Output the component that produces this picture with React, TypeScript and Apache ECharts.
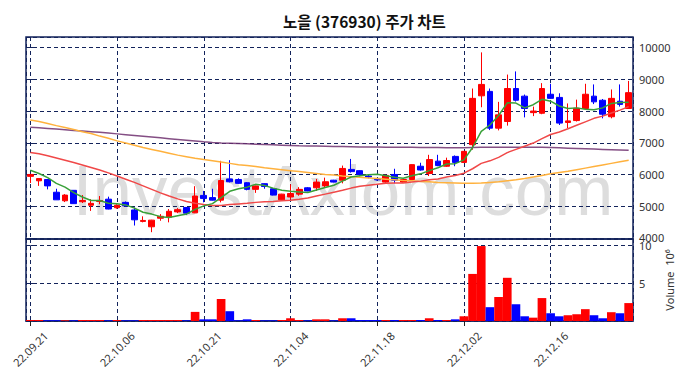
import React, { useEffect, useRef } from "react";
import * as echarts from "echarts";

const dates = [
  "22.09.21", "22.09.22", "22.09.23", "22.09.26", "22.09.27", "22.09.28", "22.09.29", "22.09.30", "22.10.04", "22.10.05",
  "22.10.06", "22.10.07", "22.10.11", "22.10.12", "22.10.13", "22.10.14", "22.10.17", "22.10.18", "22.10.19", "22.10.20",
  "22.10.21", "22.10.24", "22.10.25", "22.10.26", "22.10.27", "22.10.28", "22.10.31", "22.11.01", "22.11.02", "22.11.03",
  "22.11.04", "22.11.07", "22.11.08", "22.11.09", "22.11.10", "22.11.11", "22.11.14", "22.11.15", "22.11.16", "22.11.17",
  "22.11.18", "22.11.21", "22.11.22", "22.11.23", "22.11.24", "22.11.25", "22.11.28", "22.11.29", "22.11.30", "22.12.01",
  "22.12.02", "22.12.05", "22.12.06", "22.12.07", "22.12.08", "22.12.09", "22.12.12", "22.12.13", "22.12.14", "22.12.15",
  "22.12.16", "22.12.19", "22.12.20", "22.12.21", "22.12.22", "22.12.23", "22.12.26", "22.12.27", "22.12.28", "22.12.29",
];

const opens = [
  5940, 5800, 5840, 5440, 5170, 5500, 5140, 5030, 5150, 5220,
  4950, 5120, 4880, 4520, 4350, 4620, 4650, 4820, 4960, 4790,
  5340, 5270, 5190, 5860, 5840, 5740, 5530, 5710, 5550, 5200,
  5290, 5380, 5580, 5580, 5640, 5820, 5820, 6160, 6120, 5950,
  5850, 5760, 6000, 5760, 5840, 6260, 6030, 6420, 6260, 6570,
  6380, 6940, 8480, 8620, 7460, 7670, 8710, 8470, 7950, 7930,
  8530, 8430, 7640, 7700, 8080, 8470, 8340, 7820, 8310, 8080,
];
const closes = [
  6000, 5870, 5640, 5200, 5350, 5080, 5180, 5090, 5180, 4910,
  5030, 5010, 4570, 4550, 4560, 4680, 4840, 4890, 4780, 5320,
  5240, 5190, 5810, 5770, 5720, 5530, 5640, 5620, 5350, 5380,
  5400, 5530, 5480, 5760, 5770, 5760, 6190, 6090, 6000, 5920,
  5830, 5970, 5820, 5840, 6310, 6140, 6470, 6280, 6440, 6380,
  6730, 8400, 8840, 7460, 7880, 8710, 8340, 8080, 8000, 8710,
  8400, 7620, 7690, 8090, 8530, 8290, 7900, 8400, 8210, 8580,
];
const lows = [
  5730, 5640, 5530, 5200, 5130, 5080, 5100, 4850, 5060, 4900,
  4920, 4990, 4390, 4490, 4180, 4540, 4490, 4780, 4720, 4780,
  5120, 5180, 5120, 5750, 5700, 5500, 5420, 5550, 5340, 5190,
  5220, 5330, 5470, 5480, 5600, 5750, 5720, 6060, 5940, 5880,
  5810, 5740, 5720, 5740, 5830, 6120, 5950, 6260, 6240, 6260,
  6360, 6780, 8120, 7400, 7390, 7540, 8300, 7800, 7840, 7900,
  8390, 7560, 7460, 7670, 8050, 8220, 7770, 7770, 8140, 8080,
];
const highs = [
  6020, 5880, 5850, 5550, 5380, 5500, 5350, 5220, 5320, 5300,
  5060, 5150, 4960, 4680, 4570, 4750, 4910, 4940, 4970, 5630,
  5480, 5550, 6430, 6450, 5880, 5760, 5650, 5720, 5560, 5390,
  5690, 5600, 5600, 5860, 5900, 5830, 6280, 6490, 6130, 6000,
  5870, 5990, 6180, 5860, 6320, 6370, 6620, 6620, 6530, 6600,
  6740, 8710, 9850, 8710, 8290, 9150, 9250, 8520, 8140, 8880,
  8860, 8560, 8240, 8360, 8860, 8840, 8380, 8680, 8840, 8950,
];

// volume in millions of shares
const volumes = [
  0.13, 0.13, 0.09, 0.09, 0.09, 0.09, 0.13, 0.13, 0.13, 0.09,
  0.13, 0.09, 0.09, 0.13, 0.13, 0.13, 0.13, 0.13, 0.09, 1.2,
  0.22, 0.22, 2.9, 1.29, 0.1, 0.22, 0.13, 0.09, 0.09, 0.13,
  0.36, 0.13, 0.09, 0.22, 0.22, 0.09, 0.36, 0.36, 0.13, 0.13,
  0.13, 0.13, 0.13, 0.13, 0.13, 0.13, 0.36, 0.13, 0.13, 0.22,
  0.62, 6.2, 9.87, 1.82, 3.16, 5.69, 2.22, 0.62, 0.44, 3.02,
  1.02, 0.62, 0.76, 0.89, 1.56, 0.76, 0.36, 1.16, 1.02, 2.36,
];

const ma5 = [
  6135, 6030, 5900, 5720, 5600, 5430, 5290, 5180, 5180, 5090,
  5080, 5040, 4940, 4810, 4750, 4670, 4640, 4700, 4750, 4900,
  5010, 5080, 5270, 5470, 5550, 5600, 5690, 5650, 5570, 5500,
  5470, 5450, 5430, 5510, 5590, 5660, 5790, 5920, 5960, 5990,
  6010, 5960, 5910, 5880, 5960, 6020, 6120, 6210, 6330, 6340,
  6460, 6850, 7360, 7560, 7860, 8260, 8250, 8100, 8200, 8370,
  8310, 8160, 8080, 8100, 8060, 8040, 8100, 8240, 8270, 8280,
];
const ma20 = [
  6690, 6650, 6590, 6520, 6450, 6380, 6300, 6220, 6140, 6050,
  5950, 5850, 5750, 5640, 5530, 5420, 5320, 5230, 5150, 5090,
  5050, 5020, 5020, 5050, 5070, 5090, 5120, 5140, 5150, 5170,
  5190, 5220, 5260, 5320, 5380, 5440, 5500, 5570, 5630, 5660,
  5690, 5720, 5730, 5730, 5760, 5790, 5830, 5860, 5920, 5970,
  6040, 6180, 6350, 6430, 6540, 6690, 6790, 6890, 6990, 7130,
  7260, 7340, 7440, 7550, 7660, 7770, 7840, 7940, 8030, 8140,
];
const ma60 = [
  7720, 7670, 7610, 7540, 7480, 7420, 7350, 7290, 7210, 7140,
  7060, 6990, 6920, 6850, 6790, 6730, 6670, 6610, 6560, 6510,
  6470, 6430, 6390, 6350, 6310, 6280, 6250, 6210, 6180, 6150,
  6120, 6090, 6060, 6030, 6000, 5980, 5950, 5930, 5910, 5890,
  5870, 5850, 5830, 5810, 5800, 5780, 5770, 5750, 5740, 5730,
  5720, 5720, 5730, 5750, 5770, 5800, 5830, 5870, 5920, 5970,
  6020, 6060, 6100, 6150, 6200, 6250, 6300, 6350, 6400, 6450,
];
const ma120 = [
  7490, 7470, 7450, 7430, 7410, 7390, 7370, 7350, 7330, 7305,
  7280, 7255, 7230, 7205, 7180, 7155, 7130, 7105, 7080, 7055,
  7030, 7010, 6995, 6985, 6975, 6965, 6955, 6945, 6935, 6925,
  6915, 6905, 6900, 6895, 6890, 6885, 6880, 6875, 6870, 6867,
  6865, 6862, 6860, 6857, 6855, 6852, 6850, 6848, 6846, 6845,
  6845, 6850, 6855, 6860, 6862, 6862, 6862, 6860, 6858, 6855,
  6850, 6840, 6830, 6820, 6810, 6800, 6790, 6780, 6770, 6760,
];

const TITLE = "노을 (376930) 주가 차트";
const RED = "#ff0000";
const BLUE = "#0000ff";
const NAVY = "#13235b";
const TXT = "#333333";
const FONT = "'Noto Sans', 'Noto Sans CJK KR', sans-serif";

export default function App() {
  const ref = useRef<HTMLDivElement>(null);

  useEffect(() => {
    if (!ref.current) return;
    const chart = echarts.init(ref.current, null, { renderer: "svg" });

    const candles = dates.map((_, i) => [opens[i], closes[i], lows[i], highs[i]]);
    const volData = volumes.map((v, i) => ({
      value: v,
      itemStyle: { color: closes[i] >= opens[i] ? RED : BLUE },
    }));
    const dashed = { lineStyle: { color: NAVY, type: [4, 3] as any, width: 1 } };
    const n = dates.length;

    const maLine = (name: string, data: number[], color: string, opacity = 1) => ({
      name,
      type: "line",
      xAxisIndex: 0,
      yAxisIndex: 0,
      data,
      symbol: "none",
      smooth: false,
      z: 3,
      lineStyle: { color, width: 1.5, opacity },
    });

    chart.setOption({
      animation: false,
      backgroundColor: "#ffffff",
      textStyle: { fontFamily: FONT },
      title: {
        text: TITLE,
        left: 278,
        top: 8,
        textStyle: { fontSize: 15.5, fontWeight: "bold", color: "#111", fontFamily: "'Noto Sans CJK KR', sans-serif" },
      },
      graphic: [
        {
          type: "text",
          x: 343,
          y: 190,
          z: -10,
          silent: true,
          style: {
            text: "InvestAxiom.com",
            fontSize: 71,
            fontFamily: "'Liberation Sans', Arial, sans-serif",
            fill: "#dddddd",
            align: "center",
            verticalAlign: "middle",
          },
        },
      ],
      grid: [
        { left: 26, right: 53, top: 37, height: 202, show: true, borderColor: NAVY, borderWidth: 1.5, backgroundColor: "transparent" },
        { left: 26, right: 53, top: 239, height: 82, show: true, borderColor: NAVY, borderWidth: 1.5, backgroundColor: "transparent" },
      ],
      xAxis: [
        {
          type: "category",
          gridIndex: 0,
          data: dates,
          boundaryGap: true,
          axisLine: { show: false },
          axisTick: { show: false },
          axisLabel: { show: false },
          splitLine: { show: false },
        },
        {
          type: "category",
          gridIndex: 1,
          data: dates,
          boundaryGap: true,
          axisLine: { show: true, lineStyle: { color: NAVY, width: 1.5 } },
          axisTick: { show: true, alignWithLabel: true, interval: 9, length: 5, lineStyle: { color: "#222" } },
          axisLabel: {
            interval: 9,
            rotate: 45,
            fontSize: 11,
            color: TXT,
            margin: 28,
            align: "center",
            verticalAlign: "middle",
          },
          splitLine: { show: false },
        },
        {
          type: "value",
          gridIndex: 0,
          position: "top",
          min: -0.5,
          max: n - 0.5,
          splitNumber: 7,
          axisLine: { show: false },
          axisTick: { show: false },
          axisLabel: { show: false },
          splitLine: { show: true, ...dashed },
        },
        {
          type: "value",
          gridIndex: 1,
          position: "top",
          min: -0.5,
          max: n - 0.5,
          splitNumber: 7,
          axisLine: { show: false },
          axisTick: { show: false },
          axisLabel: { show: false },
          splitLine: { show: true, ...dashed },
        },
      ],
      yAxis: [
        {
          type: "value",
          gridIndex: 0,
          position: "right",
          min: 3965,
          max: 10335,
          axisLine: { show: false },
          axisTick: { show: true, length: 4, lineStyle: { color: NAVY } },
          axisLabel: {
            showMinLabel: false,
            showMaxLabel: false,
            fontSize: 11,
            lineHeight: 9,
            color: TXT,
            margin: 6,
            formatter: (v: number) => String(v),
          },
          splitLine: { show: true, ...dashed },
        },
        {
          type: "value",
          gridIndex: 1,
          position: "right",
          min: 0,
          max: 10.8,
          interval: 5,
          axisLine: { show: false },
          axisTick: { show: true, length: 4, lineStyle: { color: NAVY } },
          axisLabel: {
            showMinLabel: false,
            showMaxLabel: false,
            fontSize: 11,
            lineHeight: 9,
            color: TXT,
            margin: 6,
            formatter: (v: number) => String(v),
          },
          splitLine: { show: true, ...dashed },
          name: "Volume  10⁶",
          nameLocation: "middle",
          nameRotate: 90,
          nameGap: 31,
          nameTextStyle: { fontSize: 11, color: TXT },
        },
      ],
      series: [
        {
          name: "price",
          type: "candlestick",
          xAxisIndex: 0,
          yAxisIndex: 0,
          data: candles,
          barWidth: "72%",
          z: 2,
          itemStyle: { color: RED, color0: BLUE, borderColor: RED, borderColor0: BLUE, borderWidth: 1 },
        },
        maLine("MA120", ma120, "#6e2f6e", 0.85),
        maLine("MA60", ma60, "#ffb13d"),
        maLine("MA20", ma20, "#f04848"),
        maLine("MA5", ma5, "#38a038"),
        {
          name: "volume",
          type: "bar",
          xAxisIndex: 1,
          yAxisIndex: 1,
          data: volData,
          barWidth: "100%",
          barCategoryGap: "0%",
        },
      ],
    });

    return () => chart.dispose();
  }, []);

  return (
    <div
      ref={ref}
      style={{ position: "fixed", left: 0, top: 0, width: 686, height: 378, background: "#fff" }}
    />
  );
}
